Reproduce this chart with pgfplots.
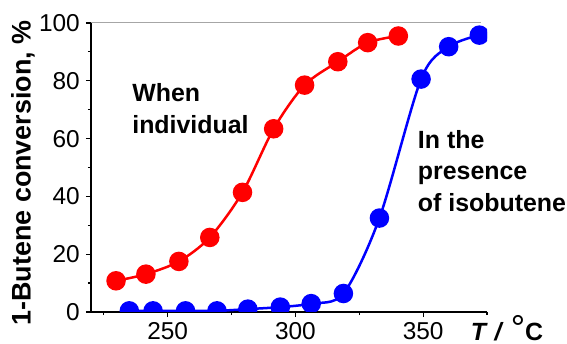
\documentclass[border=0pt]{standalone}
\usepackage{fontspec}
\setmainfont{Liberation Sans}
\usepackage{pgfplots}
\pgfplotsset{compat=1.18}
\begin{document}
\begin{tikzpicture}
\begin{axis}[
 at={(0,0)}, anchor=south west,
 scale only axis, width=396bp, height=289bp,
 xmin=220, xmax=375, ymin=0, ymax=100,
 axis x line=bottom, axis y line=left,
 axis line style={-, line width=1.5bp, black},
 xtick={250,300,350}, minor xtick={225,275,325,375},
 ytick={0,20,...,100}, minor ytick={10,30,...,90},
 tick align=outside, major tick length=5bp, minor tick length=3bp,
 every tick/.style={black, line width=1.2bp},
 tick label style={font=\fontsize{24.5}{28}\selectfont, inner sep=0pt},
 /pgf/number format/assume math mode=true,
 xticklabel style={yshift=-5.5bp},
 yticklabel style={xshift=-6bp},
 clip mode=individual, clip marker paths=true,
]
\draw[gray!70, line width=1bp] (rel axis cs:0,1) -- (axis cs:372.7,100);
\addplot[red, line width=2.5bp, smooth, mark=*, mark size=8.5bp, mark options={draw=none, fill=red}] coordinates {
(229.8,10.8) (241.5,13.1) (254.4,17.5) (266.5,25.8) (279.3,41.4) (291.5,63.4) (303.6,78.5) (316.6,86.6) (328.3,93.2) (340.3,95.5)
};
\addplot[blue, line width=2.5bp, smooth, mark=*, mark size=8.5bp, mark options={draw=none, fill=blue}] coordinates {
(235,0.4) (244.3,0.4) (257,0.4) (269.3,0.4) (281.4,1.0) (294.1,1.7) (306.2,2.9) (318.8,6.4) (332.9,32.5) (349.2,80.6) (360,91.8) (372,95.8)
};
\node[anchor=base west, font=\fontsize{25}{30}\selectfont\bfseries] at (axis cs:234.8,73.0) {When};
\node[anchor=base west, font=\fontsize{25}{30}\selectfont\bfseries] at (axis cs:234.8,61.9) {individual};
\node[anchor=base west, font=\fontsize{25}{30}\selectfont\bfseries] at (axis cs:346.6,56.6) {In the};
\node[anchor=base west, font=\fontsize{25}{30}\selectfont\bfseries] at (axis cs:346.6,45.7) {presence};
\node[anchor=base west, font=\fontsize{25}{30}\selectfont\bfseries] at (axis cs:346.6,34.7) {of isobutene};
\node[rotate=90, anchor=center, font=\fontsize{27}{30}\selectfont\bfseries] at ([xshift=-68bp]rel axis cs:0,0.481) {1-Butene conversion, \%};
\node[anchor=base west, font=\fontsize{25}{30}\selectfont\bfseries, inner sep=0pt] at ([yshift=-28bp]axis cs:368.6,0) {\textit{T} \textit{/} {\fontsize{36}{36}\selectfont\mdseries °}C};
\end{axis}
\pgfresetboundingbox
\path[use as bounding box] (-91bp,-32bp) rectangle (476bp,312bp);
\end{tikzpicture}
\end{document}
